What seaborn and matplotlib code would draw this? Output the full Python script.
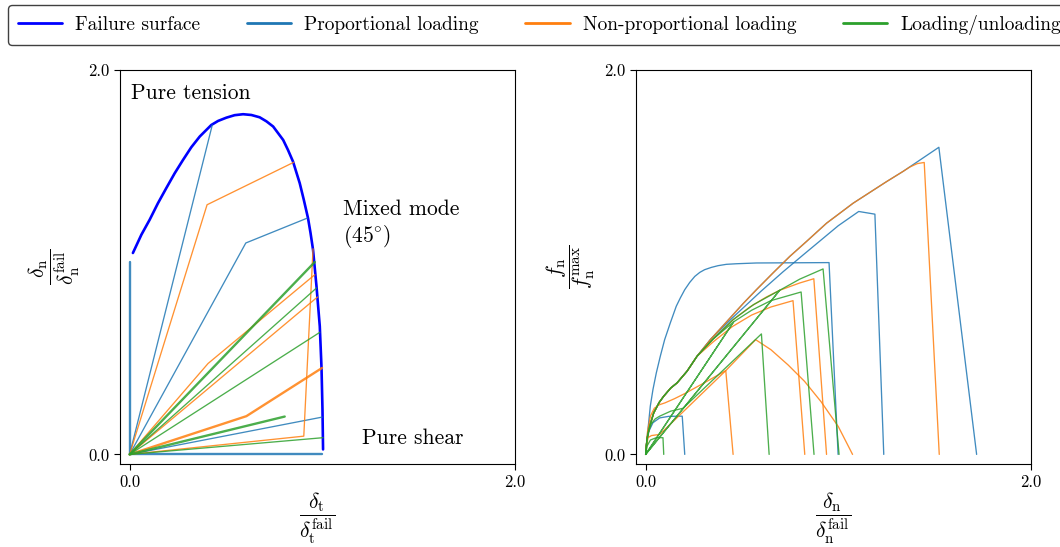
import numpy as np
import pandas as pd
import matplotlib
matplotlib.use("Agg")
import matplotlib.pyplot as plt
from matplotlib.lines import Line2D
import seaborn as sns

# ---------------------------------------------------------------- data
# Failure surface in the (delta_t, delta_n) plane
surface_dt = [0.017, 0.061, 0.104, 0.147, 0.190, 0.234, 0.277, 0.320, 0.364, 0.424, 0.459,
              0.502, 0.545, 0.589, 0.632, 0.675, 0.710, 0.745, 0.797, 0.822, 0.848, 0.883,
              0.904, 0.926, 0.939, 0.952, 0.970, 0.987, 0.996, 1.001, 1.004]
surface_dn = [1.048, 1.143, 1.221, 1.307, 1.385, 1.463, 1.532, 1.598, 1.654, 1.714, 1.735,
              1.752, 1.765, 1.770, 1.766, 1.754, 1.733, 1.706, 1.636, 1.584, 1.524, 1.411,
              1.325, 1.229, 1.152, 1.065, 0.874, 0.667, 0.450, 0.234, 0.026]

# Displacement paths (delta_t, delta_n): (x list, y list, thick?)
prop_paths = [
    ([0.0, 0.0], [0.0, 1.0], True),
    ([0.0, 1.0], [0.0, 0.0], True),
    ([0.0, 0.429], [0.0, 1.714], False),
    ([0.0, 0.603, 0.921], [0.0, 1.100, 1.229], False),
    ([0.0, 0.999], [0.0, 0.194], False),
]
nonprop_paths = [
    ([0.0, 0.402, 0.852], [0.0, 1.299, 1.520], False),
    ([0.0, 0.407, 0.961], [0.0, 0.473, 0.935], False),
    ([0.0, 0.975], [0.0, 0.819], False),
    ([0.0, 0.606, 0.999], [0.0, 0.199, 0.450], True),
    ([0.0, 0.904, 0.952], [0.0, 0.095, 1.070], False),
]
cyclic_paths = [
    ([0.0, 0.961], [0.0, 1.001], True),
    ([0.0, 0.970], [0.0, 0.866], False),
    ([0.0, 0.987], [0.0, 0.635], False),
    ([0.0, 0.805], [0.0, 0.197], True),
    ([0.0, 1.004], [0.0, 0.087], False),
]

# Normal traction vs normal opening
main_dn = [0.0, 0.007, 0.021, 0.042, 0.070, 0.094, 0.130, 0.163, 0.215, 0.267, 0.336,
           0.423, 0.509, 0.575, 0.661, 0.748, 0.835, 0.939, 1.077, 1.250, 1.337]
main_fn = [0.0, 0.080, 0.147, 0.216, 0.270, 0.303, 0.345, 0.372, 0.433, 0.511, 0.597,
           0.693, 0.788, 0.857, 0.944, 1.030, 1.108, 1.203, 1.307, 1.419, 1.473]

prop_b1_dn = [0.0, 0.0035, 0.0087, 0.0156, 0.0242, 0.0381, 0.0554, 0.0762, 0.0987, 0.128,
              0.159, 0.180, 0.203, 0.229, 0.255, 0.281, 0.306, 0.341, 0.376, 0.419, 0.471,
              0.575, 0.952, 0.999]
prop_b1_fn = [0.0, 0.043, 0.095, 0.164, 0.251, 0.338, 0.424, 0.511, 0.597, 0.684,
              0.771, 0.814, 0.857, 0.895, 0.926, 0.947, 0.961, 0.973, 0.982, 0.989, 0.992,
              0.996, 0.998, 0.0]
prop_b2_dn = [1.522, 1.718]
prop_b2_fn = [1.598, 0.0]
prop_b3_dn = [0.45, 0.60, 0.713, 0.82, 0.904, 1.0, 1.106, 1.190, 1.236]
prop_b3_fn = [0.71, 0.85, 0.95, 1.04, 1.11, 1.19, 1.264, 1.250, 0.0]
prop_b4_dn = [0.0, 0.007, 0.017, 0.038, 0.073, 0.12, 0.19, 0.203]
prop_b4_fn = [0.0, 0.069, 0.121, 0.165, 0.190, 0.198, 0.199, 0.0]

nonprop_o1_dn = [1.371, 1.410, 1.446, 1.524]
nonprop_o1_fn = [1.495, 1.513, 1.519, 0.0]
nonprop_o2_dn = [0.35, 0.454, 0.541, 0.627, 0.696, 0.800, 0.873, 0.939]
nonprop_o2_fn = [0.60, 0.701, 0.767, 0.819, 0.854, 0.892, 0.914, 0.0]
nonprop_o3_dn = [0.35, 0.45, 0.55, 0.65, 0.765, 0.826]
nonprop_o3_fn = [0.585, 0.665, 0.725, 0.767, 0.800, 0.0]
nonprop_o4_dn = [0.0, 0.012, 0.030, 0.073, 0.416, 0.571, 0.65, 0.74, 0.825, 0.91, 1.0, 1.074]
nonprop_o4_fn = [0.0, 0.087, 0.098, 0.104, 0.436, 0.597, 0.545, 0.465, 0.38, 0.275, 0.145, 0.0]
nonprop_o5_dn = [0.0, 0.010, 0.025, 0.045, 0.07, 0.10, 0.15, 0.20, 0.30, 0.416, 0.454]
nonprop_o5_fn = [0.0, 0.12, 0.20, 0.240, 0.258, 0.268, 0.29, 0.315, 0.37, 0.436, 0.0]

cyclic_g1_dn = [0.35, 0.454, 0.561, 0.696, 0.0, 0.696, 0.80, 0.921, 1.004]
cyclic_g1_fn = [0.60, 0.701, 0.78, 0.854, 0.0, 0.854, 0.912, 0.965, 0.0]
cyclic_g2_dn = [0.35, 0.457, 0.0, 0.457, 0.55, 0.65, 0.807, 0.874]
cyclic_g2_fn = [0.60, 0.69, 0.0, 0.69, 0.75, 0.80, 0.845, 0.0]
cyclic_g3_dn = [0.0, 0.005, 0.015, 0.03, 0.05, 0.073, 0.13, 0.194, 0.601, 0.641]
cyclic_g3_fn = [0.0, 0.06, 0.12, 0.16, 0.185, 0.199, 0.225, 0.240, 0.627, 0.0]
cyclic_g4_dn = [0.0, 0.008, 0.025, 0.055, 0.090, 0.094]
cyclic_g4_fn = [0.0, 0.045, 0.075, 0.087, 0.087, 0.0]

labels = ["Failure surface", "Proportional loading", "Non-proportional loading", "Loading/unloading"]

# ---------------------------------------------------------------- style
sns.set_style("ticks")
plt.rcParams["font.family"] = ["cmr10", "DejaVu Serif"]
plt.rcParams["mathtext.fontset"] = "cm"
plt.rcParams["axes.unicode_minus"] = False
plt.rcParams["axes.formatter.use_mathtext"] = True
for key in ("text.color", "axes.labelcolor", "xtick.color", "ytick.color", "axes.edgecolor"):
    plt.rcParams[key] = "black"

c_surf = "#0000ff"
c_prop = sns.color_palette("tab10")[0]
c_nonp = sns.color_palette("tab10")[1]
c_cyc = sns.color_palette("tab10")[2]
thin, thick = 0.95, 1.7
alpha = 0.85


def draw(ax, xs, ys, color, lw, a=alpha):
    sns.lineplot(x=xs, y=ys, sort=False, estimator=None, color=color,
                 linewidth=lw, alpha=a, ax=ax, legend=False)


fig = plt.figure(figsize=(10.6, 5.47), dpi=100)
ax1 = fig.add_axes([0.1132, 0.1517, 0.3726, 0.7203])
ax2 = fig.add_axes([0.6000, 0.1517, 0.3726, 0.7203])

# ---------------------------------------------------------------- left: paths
draw(ax1, surface_dt, surface_dn, c_surf, 1.9, 1.0)
for group, col in ((prop_paths, c_prop), (nonprop_paths, c_nonp), (cyclic_paths, c_cyc)):
    for xs, ys, bold in group:
        draw(ax1, xs, ys, col, thick if bold else thin)

ax1.text(0.005, 1.88, "Pure tension", fontsize=15.5, ha="left", va="center")
ax1.text(1.106, 1.195, "Mixed mode\n(45$^{\\circ}$)", fontsize=15.5, ha="left", va="center")
ax1.text(1.205, 0.083, "Pure shear", fontsize=15.5, ha="left", va="center")
ax1.set_xlabel(r"$\dfrac{\delta_\mathrm{t}}{\delta_\mathrm{t}^\mathrm{fail}}$", fontsize=15.5)
ax1.set_ylabel(r"$\dfrac{\delta_\mathrm{n}}{\delta_\mathrm{n}^\mathrm{fail}}$", fontsize=15.5)

# ---------------------------------------------------------------- right: tractions
m10 = slice(0, 10)
m11 = slice(0, 11)
draw(ax2, prop_b1_dn, prop_b1_fn, c_prop, thin)
draw(ax2, main_dn + prop_b2_dn, main_fn + prop_b2_fn, c_prop, thin)
draw(ax2, main_dn[m11] + prop_b3_dn, main_fn[m11] + prop_b3_fn, c_prop, thin)
draw(ax2, prop_b4_dn, prop_b4_fn, c_prop, thin)

draw(ax2, main_dn + nonprop_o1_dn, main_fn + nonprop_o1_fn, c_nonp, thin)
draw(ax2, main_dn[m10] + nonprop_o2_dn, main_fn[m10] + nonprop_o2_fn, c_nonp, thin)
draw(ax2, main_dn[m10] + nonprop_o3_dn, main_fn[m10] + nonprop_o3_fn, c_nonp, thin)
draw(ax2, nonprop_o4_dn, nonprop_o4_fn, c_nonp, thin)
draw(ax2, nonprop_o5_dn, nonprop_o5_fn, c_nonp, thin)

draw(ax2, main_dn[m10] + cyclic_g1_dn, main_fn[m10] + cyclic_g1_fn, c_cyc, thin)
draw(ax2, main_dn[m10] + cyclic_g2_dn, main_fn[m10] + cyclic_g2_fn, c_cyc, thin)
draw(ax2, cyclic_g3_dn, cyclic_g3_fn, c_cyc, thin)
draw(ax2, cyclic_g4_dn, cyclic_g4_fn, c_cyc, thin)

ax2.set_xlabel(r"$\dfrac{\delta_\mathrm{n}}{\delta_\mathrm{n}^\mathrm{fail}}$", fontsize=15.5)
ax2.set_ylabel(r"$\dfrac{f_\mathrm{n}}{f_\mathrm{n}^\mathrm{max}}$", fontsize=15.5)

for ax in (ax1, ax2):
    ax.set_xlim(-0.05, 2.0)
    ax.set_ylim(-0.05, 2.0)
    ax.set_xticks([0.0, 2.0])
    ax.set_yticks([0.0, 2.0])
    ax.set_xticklabels(["0.0", "2.0"])
    ax.set_yticklabels(["0.0", "2.0"])
    ax.tick_params(labelsize=12, length=4, width=0.8, direction="out", colors="black")
    for sp in ax.spines.values():
        sp.set_visible(True)
        sp.set_color("black")
        sp.set_linewidth(0.8)
    ax.xaxis.set_label_coords(0.5, -0.137)
    ax.xaxis.label.set_va("center")
    ax.yaxis.set_label_coords(-0.165, 0.5)
    ax.yaxis.label.set_va("center")
    ax.yaxis.label.set_ha("center")

handles = [Line2D([], [], color=c, lw=2.0) for c in (c_surf, c_prop, c_nonp, c_cyc)]
leg = fig.legend(handles, labels, loc="upper left", bbox_to_anchor=(0.0075, 0.99),
                 ncol=4, fontsize=14, handlelength=2.3, handletextpad=0.65,
                 columnspacing=2.4, borderaxespad=0.0, frameon=True, fancybox=True,
                 borderpad=0.5)
leg.get_frame().set_edgecolor("0.25")
leg.get_frame().set_linewidth(1.0)
leg.get_frame().set_alpha(1.0)

fig.savefig("out.png", dpi=100)
